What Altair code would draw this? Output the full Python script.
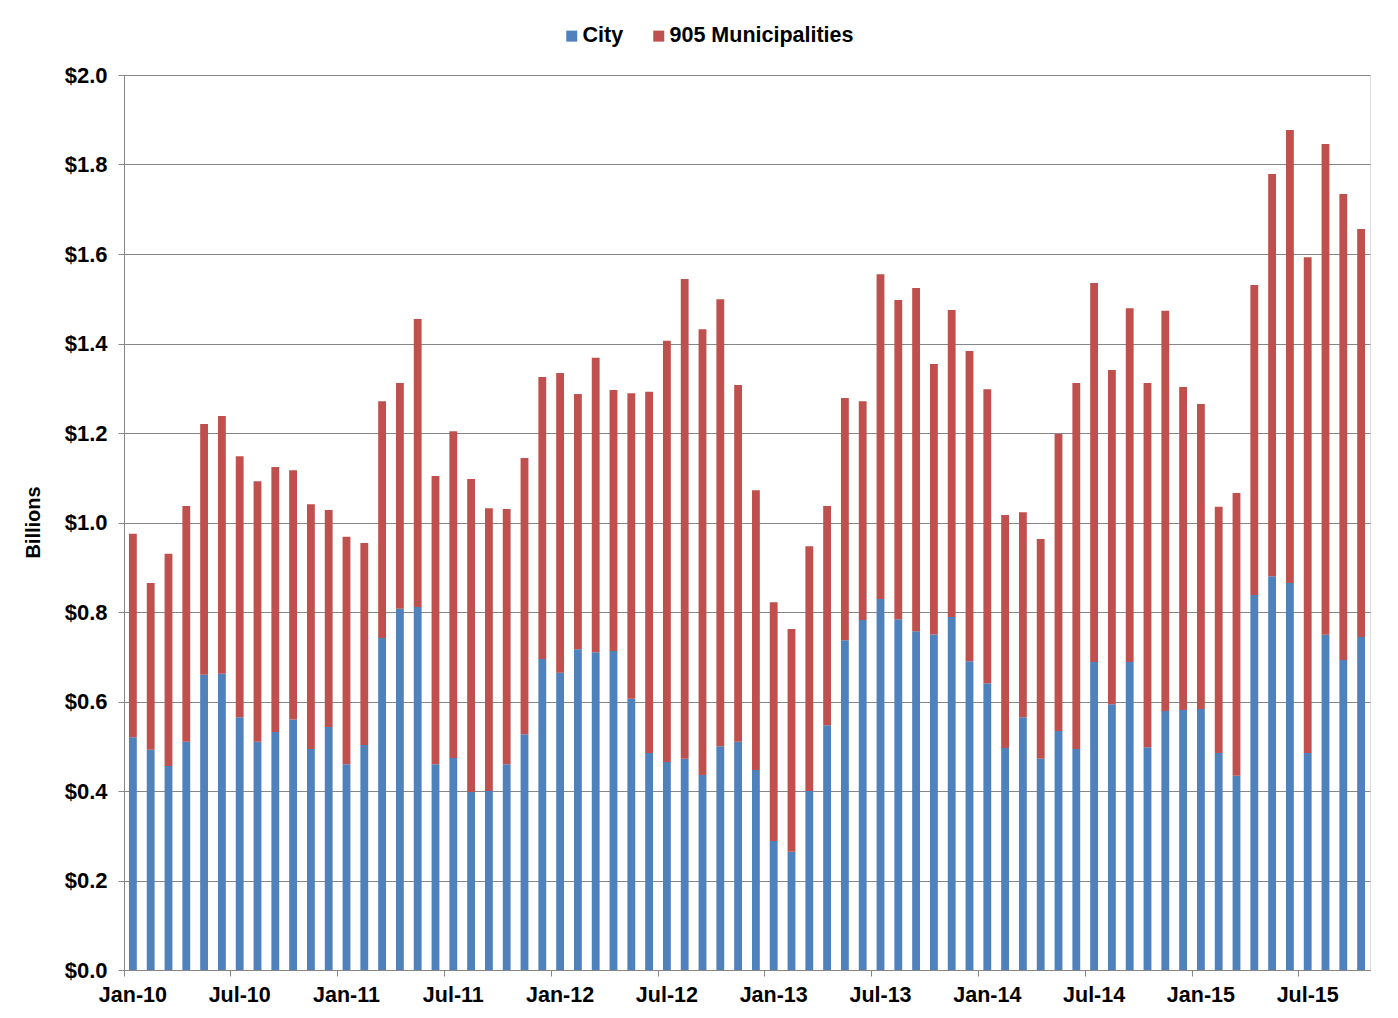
import altair as alt
import pandas as pd

years = ["10", "11", "12", "13", "14", "15"]
month_names = ["Jan", "Feb", "Mar", "Apr", "May", "Jun",
               "Jul", "Aug", "Sep", "Oct", "Nov", "Dec"]
months = [f"{m}-{y}" for y in years for m in month_names][:70]

city = [0.520, 0.492, 0.456, 0.510, 0.660, 0.662, 0.565, 0.510, 0.532, 0.560,
        0.494, 0.543, 0.460, 0.503, 0.742, 0.807, 0.811, 0.460, 0.474, 0.398,
        0.400, 0.460, 0.527, 0.695, 0.664, 0.717, 0.710, 0.713, 0.606, 0.485,
        0.465, 0.472, 0.436, 0.500, 0.510, 0.447, 0.288, 0.264, 0.400, 0.547,
        0.737, 0.782, 0.829, 0.784, 0.757, 0.750, 0.789, 0.690, 0.641, 0.496,
        0.565, 0.472, 0.534, 0.494, 0.688, 0.594, 0.688, 0.498, 0.579, 0.581,
        0.583, 0.485, 0.434, 0.838, 0.880, 0.865, 0.485, 0.749, 0.693, 0.744]

muni905 = [0.455, 0.373, 0.474, 0.527, 0.560, 0.576, 0.583, 0.582, 0.592, 0.557,
           0.547, 0.485, 0.508, 0.451, 0.529, 0.505, 0.644, 0.644, 0.730, 0.699,
           0.632, 0.570, 0.617, 0.630, 0.670, 0.570, 0.658, 0.583, 0.683, 0.807,
           0.941, 1.072, 0.996, 0.999, 0.797, 0.625, 0.534, 0.498, 0.547, 0.490,
           0.541, 0.489, 0.726, 0.713, 0.767, 0.604, 0.686, 0.693, 0.657, 0.521,
           0.458, 0.491, 0.664, 0.818, 0.847, 0.747, 0.791, 0.814, 0.894, 0.722,
           0.682, 0.550, 0.632, 0.693, 0.899, 1.012, 1.108, 1.097, 1.041, 0.912]

series = ["City", "905 Municipalities"]
colors = ["#4F81BD", "#C0504D"]

rows = []
for i, m in enumerate(months):
    rows.append({"month": m, "series": series[0], "value": city[i], "ord": 0})
    rows.append({"month": m, "series": series[1], "value": muni905[i], "ord": 1})
df = pd.DataFrame(rows)

tick_months = [m for m in months if m.startswith("Jan") or m.startswith("Jul")]
font = "Liberation Sans"

chart = alt.Chart(df).mark_bar().encode(
    x=alt.X("month:N", sort=months, title=None,
            scale=alt.Scale(paddingInner=0.56, paddingOuter=0.28),
            axis=alt.Axis(values=tick_months, labelAngle=0, bandPosition=-0.636,
                          labelFont=font, labelFontSize=21.5, labelFontWeight="bold",
                          labelColor="#000000", labelPadding=8, tickSize=6,
                          tickColor="#868686", domainColor="#868686",
                          labelOverlap=False, grid=False)),
    y=alt.Y("value:Q", stack="zero", title="Billions",
            scale=alt.Scale(domain=[0, 2.0], nice=False),
            axis=alt.Axis(values=[0, 0.2, 0.4, 0.6, 0.8, 1.0, 1.2, 1.4, 1.6, 1.8, 2.0],
                          format="$.1f", labelFont=font, labelFontSize=22,
                          labelFontWeight="bold", labelColor="#000000",
                          labelPadding=11, tickSize=6, tickColor="#868686",
                          domainColor="#868686", gridColor="#868686", gridWidth=1.2,
                          titleFont=font, titleFontSize=20, titleFontWeight="bold",
                          titleColor="#000000", titleX=-81, titleY=447, titleAngle=-90)),
    color=alt.Color("series:N", scale=alt.Scale(domain=series, range=colors),
                    sort=series,
                    legend=alt.Legend(title=None, orient="none", direction="horizontal",
                                      legendX=437, legendY=-50, symbolType="square",
                                      symbolSize=121, symbolStrokeWidth=0,
                                      labelFont=font, labelFontSize=21.5,
                                      labelFontWeight="bold", labelColor="#000000",
                                      labelOffset=0, columnPadding=24, labelLimit=400)),
    order=alt.Order("ord:Q", sort="ascending"),
).properties(
    width=1246, height=895,
    autosize=alt.AutoSizeParams(type="none"),
    padding={"left": 116, "top": 67, "right": 20, "bottom": 40},
).configure_view(stroke=None).configure(background="white")

chart.save("out.html", embed_options={"renderer": "svg", "actions": False})
